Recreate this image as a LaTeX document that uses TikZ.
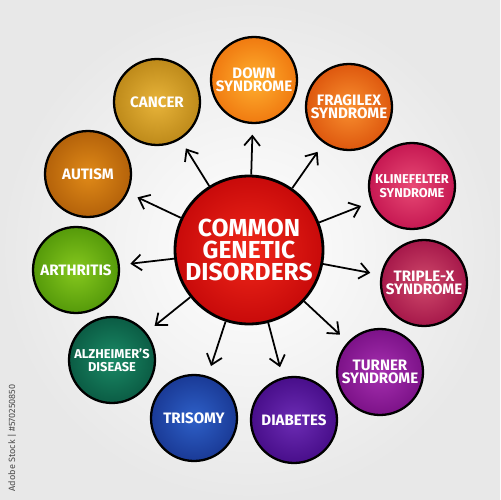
\documentclass[tikz,border=0pt]{standalone}
\usepackage{fontspec}
\setmainfont{Fira Sans}
\usetikzlibrary{arrows.meta}

\definecolor{hubIn}{HTML}{F0281A}      \definecolor{hubOut}{HTML}{C80A0A}
\definecolor{cancerIn}{HTML}{E8B43A}   \definecolor{cancerOut}{HTML}{BE8A1A}
\definecolor{downIn}{HTML}{FFB030}     \definecolor{downOut}{HTML}{F07A10}
\definecolor{fragIn}{HTML}{F99030}     \definecolor{fragOut}{HTML}{DE580E}
\definecolor{klineIn}{HTML}{E84A75}    \definecolor{klineOut}{HTML}{C61852}
\definecolor{tripleIn}{HTML}{D04A6C}   \definecolor{tripleOut}{HTML}{A6184A}
\definecolor{turnerIn}{HTML}{A630B0}   \definecolor{turnerOut}{HTML}{7C1288}
\definecolor{diabIn}{HTML}{6C2CB4}     \definecolor{diabOut}{HTML}{480E8A}
\definecolor{triIn}{HTML}{2E60C8}      \definecolor{triOut}{HTML}{1A3A96}
\definecolor{alzIn}{HTML}{1A8A66}      \definecolor{alzOut}{HTML}{0B5C44}
\definecolor{arthIn}{HTML}{86C81E}     \definecolor{arthOut}{HTML}{559A0A}
\definecolor{autIn}{HTML}{E08A18}      \definecolor{autOut}{HTML}{B4620A}

\begin{document}
\begin{tikzpicture}[x=0.02cm, y=-0.02cm,
	disorder/.style 2 args={circle, draw=black, line width=1.3pt, minimum size=1.72cm,
		inner sep=0pt, shading=radial, inner color=#1, outer color=#2,
		text=white, align=center, font=\fontsize{8.6}{7.6}\selectfont\bfseries},
	narrow/.style={font=\fontsize{7.3}{7.6}\selectfont\bfseries},
	hub/.style={circle, draw=black, line width=1.6pt, minimum size=2.96cm,
		inner sep=0pt, shading=radial, inner color=hubIn, outer color=hubOut,
		text=white, align=center, font=\fontsize{14}{12.5}\selectfont\bfseries},
	link/.style={-{Straight Barb[length=5.5pt, width=9pt]}, line width=1pt, shorten >=6pt}]
% background
	\shade[inner color=white, outer color=black!9] (0,0) rectangle (500,500);
	\useasboundingbox (0,0) rectangle (500,500);
	\node[rotate=90, text=black!70, font=\fontsize{5.2}{6}\selectfont] (stockid) at (12,438) {Adobe Stock | \#570250850};

% centre
	\node[hub] (gen) at (249,250) {COMMON\\GENETIC\\DISORDERS};

% disorders round the centre
	\node[disorder={cancerIn}{cancerOut}] (cancer) at (157,102) {CANCER};
	\node[disorder={downIn}{downOut}] (down) at (254,80) {DOWN\\SYNDROME};
	\node[disorder={fragIn}{fragOut}] (fragilex) at (349,107) {FRAGILEX\\SYNDROME};
	\node[disorder={klineIn}{klineOut}, narrow] (kline) at (412,186) {KLINEFELTER\\SYNDROME};
	\node[disorder={tripleIn}{tripleOut}] (triplex) at (424,283) {TRIPLE-X\\SYNDROME};
	\node[disorder={turnerIn}{turnerOut}] (turner) at (380,372) {TURNER\\SYNDROME};
	\node[disorder={diabIn}{diabOut}] (diabetes) at (294,420) {DIABETES};
	\node[disorder={triIn}{triOut}] (trisomy) at (194,418) {TRISOMY};
	\node[disorder={alzIn}{alzOut}, narrow] (alzheimer) at (112,360) {ALZHEIMER'S\\DISEASE};
	\node[disorder={arthIn}{arthOut}] (arthritis) at (76,270) {ARTHRITIS};
	\node[disorder={autIn}{autOut}] (autism) at (88,174) {AUTISM};

% arrows
	\foreach \d in {cancer, down, fragilex, kline, triplex, turner, diabetes, trisomy, alzheimer, arthritis, autism}
		\draw[link] (gen) -- (\d);
\end{tikzpicture}
\end{document}
